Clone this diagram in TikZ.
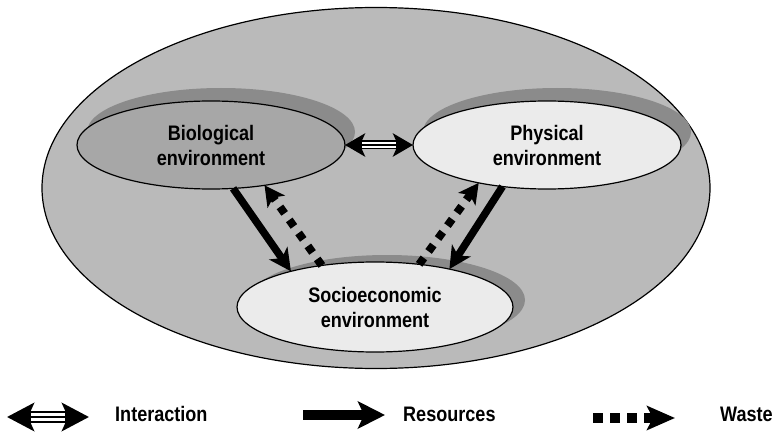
\documentclass[tikz,border=0pt]{standalone}
\usepackage{fontspec}
\setmainfont{Liberation Sans}[FakeStretch=0.86]
\usetikzlibrary{shapes.geometric,arrows.meta,shadows}

\definecolor{worldgray}{HTML}{BABABA}
\definecolor{biogray}{HTML}{A7A7A7}
\definecolor{shadegray}{HTML}{8B8B8B}
\definecolor{lightgray}{HTML}{EBEBEB}

\tikzset{
  env/.style={ellipse, draw=black, line width=1.2pt, inner sep=0pt, outer sep=0pt,
    minimum width=268pt, minimum height=88pt, align=center,
    font=\fontsize{21}{25}\selectfont\bfseries},
  world/.style={ellipse, draw=black, line width=1.2pt, fill=worldgray,
    inner sep=0pt, outer sep=0pt, minimum width=668pt, minimum height=361pt},
  envshadow/.style 2 args={copy shadow={shadow xshift=#1, shadow yshift=#2,
    draw=none, fill=shadegray}},
  resarrow/.style={line width=7.5pt, -{Stealth[length=22pt,width=22pt,inset=6pt]}},
  wastearrow/.style={line width=8pt, dash pattern=on 8pt off 8pt,
    -{Stealth[length=20pt,width=21pt,inset=5pt]}},
  intarrow/.style={line width=9pt,
    {Stealth[length=20pt,width=23pt,inset=5pt]}-{Stealth[length=20pt,width=23pt,inset=5pt]}},
  legtext/.style={anchor=base west, inner sep=0pt,
    font=\fontsize{21}{25}\selectfont\bfseries}
}

\begin{document}
\begin{tikzpicture}[x=1pt, y=-1pt]
  \useasboundingbox (0,0) rectangle (779,433);

  % surrounding environment
  \node[world] (world) at (376,188) {};

  % the three sub-environments, each with a raised shadow
  \node[env, envshadow={10pt}{13pt}, fill=biogray]   (bio)  at (211,145) {Biological\\environment};
  \node[env, envshadow={10pt}{13pt}, fill=lightgray] (phys) at (547,145) {Physical\\environment};
  \node[env, envshadow={12pt}{7pt}, fill=lightgray, minimum width=276pt, minimum height=90pt]
    (soc) at (375,307) {Socioeconomic\\environment};

  % interaction between biological and physical environment
  \draw[intarrow] (bio.east) -- (phys.west);
  \draw[white, line width=6pt, shorten <=17pt, shorten >=17pt] (bio.east) -- (phys.west);
  \draw[black, line width=1.6pt, shorten <=17pt, shorten >=17pt] (bio.east) -- (phys.west);

  % resources flowing to the socioeconomic environment
  \draw[resarrow] (bio.-63) -- (soc.157);
  \draw[resarrow] (phys.-137) -- (soc.27);

  % waste flowing back
  \draw[wastearrow] (soc.142) -- (bio.-37);
  \draw[wastearrow] (soc.44) -- (phys.-151);

  % legend
  \coordinate (ia) at (7,417);
  \coordinate (ib) at (89,417);
  \draw[line width=12pt,
    {Stealth[length=27pt,width=28pt,inset=6pt]}-{Stealth[length=27pt,width=28pt,inset=6pt]}] (ia) -- (ib);
  \draw[white, line width=8.5pt, shorten <=24pt, shorten >=24pt] (ia) -- (ib);
  \draw[black, line width=2.5pt, shorten <=24pt, shorten >=24pt] (ia) -- (ib);
  \node[legtext] (lint) at (115,421) {Interaction};

  \coordinate (ra) at (303,415);
  \coordinate (rb) at (385,415);
  \draw[line width=10pt, -{Stealth[length=27pt,width=27pt,inset=6pt]}] (ra) -- (rb);
  \node[legtext] (lres) at (403,421) {Resources};

  \coordinate (wa) at (593,418);
  \coordinate (wb) at (675,418);
  \draw[line width=10pt, dash pattern=on 10pt off 7pt,
    -{Stealth[length=28pt,width=24pt,inset=6pt]}] (wa) -- (wb);
  \node[legtext] (lwas) at (720,421) {Waste};
\end{tikzpicture}
\end{document}
